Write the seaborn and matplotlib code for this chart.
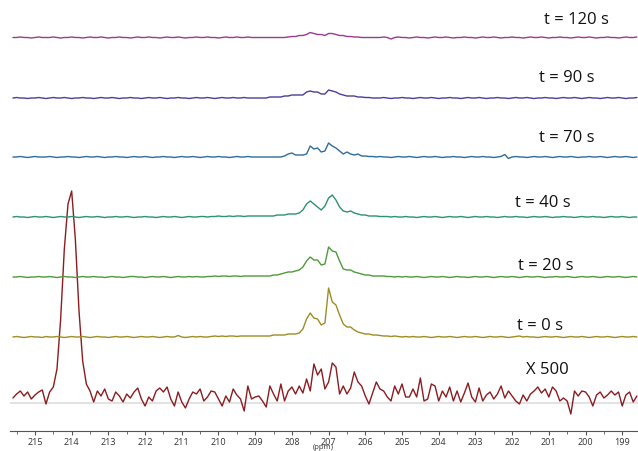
import numpy as np
import pandas as pd
import matplotlib
matplotlib.use("Agg")
import matplotlib.pyplot as plt
import seaborn as sns

# ---------------- data ----------------
# chemical shift grid (ppm), 0.1 ppm sampling from 215.6 down to 198.6
ppm = np.round(np.arange(215.6, 198.55, -0.1), 2)

series_names = ["X 500", "t = 0 s", "t = 20 s", "t = 40 s", "t = 70 s", "t = 90 s", "t = 120 s"]

x500 = [
    5, 9, 12, 7, 11, 4, 8, 11, 13, -1,
    11, 16, 34, 84, 154, 199, 212, 164, 92, 42,
    19, 12, 1, 12, 7, 14, 4, 2, 11, 7,
    1, 9, 5, 11, 15, 4, -3, 6, 2, 12,
    15, 11, 16, 4, -3, 11, 1, -5, 4, 11,
    9, 14, 2, 6, 12, 11, 4, -3, 7, 1,
    14, 8, 4, -8, 17, 4, 6, 7, 2, -4,
    17, 9, 2, 19, 2, 12, 16, 9, 17, 10,
    24, 12, 39, 28, 34, 14, 21, 40, 36, 9,
    17, 9, 15, 31, 21, 17, 7, -1, 10, 21,
    14, 12, 6, 2, 17, 9, 19, 6, 6, 14,
    6, 25, 2, 4, 19, 17, 2, 12, 6, 16,
    2, 12, 1, 10, 20, 6, 1, 15, 2, 8,
    11, 4, 9, 17, 5, 12, 7, 2, -1, 8,
    2, 9, 12, 16, 10, 14, 6, 16, 12, 2,
    5, 2, -11, 12, 7, 12, 11, 6, -3, 8,
    11, 5, 8, 12, 8, 11, -3, 8, 11, 1,
    7,
]

t0 = [
    0, 0.5, 0, -0.5, 0, 0.5, 0, 0, -0.5, 0.5,
    0, 0, 0.5, 0, -0.5, 0, 0.5, 0, 0, 0.5,
    0, -0.5, 0, 0.5, 0, 0, -0.5, 0, 0.5, 0,
    0, 0.5, 0, -0.5, 0, 0.5, 0, 0, 0.5, 0,
    -0.5, 0, 0.5, 0, 0, 1.5, 0, -0.5, 0, 0.5,
    0, 0.5, 0, 0, 0.5, 1, 0.5, 1, 0.5, 1,
    1, 0.5, 1, 1, 1, 1, 1,
    1, 1, 1, 1, 2, 2, 2, 2, 3, 3, 3,
    4, 8, 18, 24, 19, 18, 12, 14, 49, 35, 32, 22, 13, 10, 10, 7, 5, 4, 3, 3, 2,
    2, 1.5, 1, 1, 0.5, 1, 0.5, 0, 0.5, 0, 0.5,
    0, 0, 0.5, 0, -0.5, 0, 0.5, 0, 0, 0.5,
    0, -0.5, 0, 0.5, 0, 0, 0.5, 0, -0.5, 0,
    0.5, 0, 0, 0.5, 0, -0.5, 0, 0.5, 1, 0,
    0.5, 0, 0, -0.5, 0, 0.5, 0, 0, 0.5, 0,
    -0.5, 0, 0.5, 0, 0, 0.5, 0, -0.5, 0, 0.5,
    0, 0, 0.5, 0, -0.5, 0, 0.5, 0, 0, 0.5, 0,
]

t20 = [
    0, 0, 0.5, 0, -0.5, 0, 0, 0.5, 0, 0,
    0.5, 0, -0.5, 0, 0.5, 0, 0, -0.5, 0, 0.5,
    0, 0, 0.5, 0, 0, -0.5, 0, 0.5, 0, 0,
    -0.5, 0, 0.5, 0.5, 0, 0, -0.5, 0, 0.5, 0,
    0, 0.5, 0, -0.5, 0, 0.5, 0, 0, 0.5, 0,
    0.5, 0, 0, 0.5, 0.5, 1, 0.5, 1, 1, 0.5,
    1, 1, 0.5, 1, 1, 1, 1,
    1, 1, 1, 1, 2, 2,
    3, 4, 5, 5, 6, 7, 10, 16, 20, 17, 17, 12, 13, 30, 26, 25, 16, 8, 7, 7, 5, 4, 3, 2, 2, 1,
    1, 1, 1, 0.5, 0.5, 0, 0.5, 0, 0.5, 0, 0,
    0.5, 0, -0.5, 0, 0.5, 0, 0, 0.5, 0, -0.5,
    0, 0.5, 0, 0, -0.5, 0, 0.5, 0, 0, 0.5,
    0, -0.5, 0, 0.5, 0, 0, 0.5, 0, -0.5, 0,
    0.5, 0, 0, 0.5, 0, -0.5, 0, 0, 0.5, 0,
    0, 0.5, 0, -0.5, 0, 0.5, 0, 0, 0.5, 0,
    -0.5, 0, 0.5, 0, 0, 0.5, 0, -0.5, 0, 0.5, 0,
]

t40 = [
    0, 0.5, 0, 0, -0.5, 0, 0.5, 0, 0, 0.5,
    0, -0.5, 0, 0.5, 0, 0, 0.5, 0, -0.5, 0,
    0.5, 0, 0, 0.5, 0, -0.5, 0, 0, 0.5, 0,
    0, 0.5, 0, -0.5, 0, 0, 0.5, 0, 0, -0.5,
    0, 0.5, 0, 0, 0.5, 0, -0.5, 0, 0.5, 0,
    0, 0.5, 0.5, 0, 0.5, 0.5, 1, 0.5, 0.5, 1,
    0.5, 1, 1, 0.5, 1, 1, 1,
    1, 1, 1, 1, 1, 2, 2, 2, 3, 3, 3,
    4, 7, 13, 16, 13, 10, 7, 11, 19, 22, 17, 10, 6, 5, 6, 4, 3, 2, 2, 1, 1,
    1, 0.5, 0.5, 0.5, 0, 0.5, 0, 0, 0.5, 0, 0,
    -0.5, 0, 0.5, 0, 0, 0.5, 0, -0.5, 0, 0.5,
    0, 0, 0.5, 0, -0.5, 0, 0.5, 0, 0, 0.5,
    0, 0, -0.5, 0, 0.5, 0, 0, 0.5, 0, 0,
    -0.5, 0, 0.5, 0, 0, 0.5, 0, -0.5, 0, 0,
    0.5, 0, 0, -0.5, 0, 0.5, 0, 0, 0.5, 0,
    0, -0.5, 0, 0.5, 0, 0, 0.5, 0, -0.5, 0, 0,
]

t70 = [
    0, 0, 0.5, 0, -0.5, 0, 0.5, 0, 0, 0,
    0.5, 0, -0.5, 0, 0, 0.5, 0, 0, -0.5, 0,
    0.5, 0, 0, 0.5, 0, -0.5, 0, 0, 0.5, 0,
    0, -0.5, 0, 0.5, 0, 0, 0.5, 0, -0.5, 0,
    0, 0.5, 0, 0, -0.5, 0, 0.5, 0, 0, 0.5,
    0, -0.5, 0, 0.5, 0, 0, 0.5, 0, 0, -0.5,
    0, 0.5, 0, 0, 0.5, 0, 0,
    0, 0, 0, 0, 0, 0, 0,
    1, 3, 4, 2, 2, 2, 3, 11, 8, 9, 5, 6, 14, 11, 9, 6, 3, 5, 3, 2, 3, 1, 1, 0.5, 0.5,
    0, 0.5, 0, 0, -0.5, 0, 0.5, 0, 0, 0.5, 0,
    -0.5, 0, 0.5, 0, 0, 0.5, 0, -0.5, 0, 0,
    0.5, 0, 0, -0.5, 0, 0.5, 0, 0, 0.5, 0,
    0, -0.5, 0, 0.5, 2.5, -1.5, 0, 0.5, 0, 0,
    -0.5, 0, 0.5, 0, 0, 0.5, 0, -0.5, 0, 0.5,
    0, 0, 0.5, 0, -0.5, 0, 0, 0.5, 0, 0,
    0.5, 0, -0.5, 0, 0.5, 0, 0, 0.5, 0, -0.5, 0,
]

t90 = [
    0, 0.5, 0, 0, -0.5, 0, 0, 0.5, 0, -0.5,
    0, 0.5, 0, 0, 0.5, 0, -0.5, 0, 0, 0.5,
    0, 0, -0.5, 0, 0.5, 0, 0, 0.5, 0, -0.5,
    0, 0, 0.5, 0, 0, -0.5, 0, 0.5, 0, 0,
    0.5, 0, -0.5, 0, 0, 0.5, 0, 0, -0.5, 0,
    0.5, 0, 0, 0.5, 0, -0.5, 0, 0.5, 0, 0,
    0.5, 0, 0, 0.5, 0, 0, 0,
    0, 0, 0, 1, 1, 1, 1, 2, 2, 3, 3, 3, 3,
    6, 7, 6, 6, 4, 4, 8, 7, 6, 4, 3, 2, 2, 2, 1, 1, 0.5, 0.5, 0,
    0, 0, 0.5, 0, -0.5, 0, 0, 0.5, 0, 0, -0.5,
    0, 0.5, 0, 0, 0.5, 0, -0.5, 0, 0, 0.5,
    0, 0, -0.5, 0, 0.5, 0, 0, 0.5, 0, -0.5,
    0, 0, 0.5, 0, 0, -0.5, 0, 0.5, 0, 0,
    0.5, 0, -0.5, 0, 0, 0.5, 0, 0, -0.5, 0,
    0.5, 0, 0, 0.5, 0, -0.5, 0, 0.5, 0, 0,
    -0.5, 0, 0.5, 0, 0, 0.5, 0, -0.5, 0, 0, 0.5,
]

t120 = [
    0, 0, 0.5, 0, 0, -0.5, 0, 0.5, 0, 0,
    0, 0.5, 0, -0.5, 0, 0, 0.5, 0, 0, -0.5,
    0, 0.5, 0, 0, 0.5, 0, -0.5, 0, 0, 0.5,
    0, 0, -0.5, 0, 0.5, 0, 0, 0.5, 0, 0,
    -0.5, 0, 0.5, 0, 0, 0.5, 0, -0.5, 0, 0,
    0.5, 0, 0, 0.5, 0, 0, -0.5, 0, 0.5, 0,
    0, 0.5, 0, 0, 0.5, 0, 0,
    0, 0, 0, 0, 0, 0, 0, 0,
    0.5, 1, 1, 2, 2, 3, 5, 4, 3, 3, 2, 4, 4, 3, 2, 2, 1, 1, 0.5, 0.5, 0, 0, 0, 0,
    0, 0, 0.5, 0, -1.5, 0, 0.5, 0, 0, -0.5, 0,
    0.5, 0, 0, -0.5, 0, 0.5, 0, 0, 0.5, 0,
    -0.5, 0, 0, 0.5, 0, 0, -0.5, 0, 0.5, 0,
    0, 0.5, 0, -0.5, 0, 0, 0.5, 0, 0, -0.5,
    0, 0.5, 0, 0, 0.5, 0, -0.5, 0, 0, 0.5,
    0, 0, -0.5, 0, 0.5, 0, 0, 0.5, 0, -0.5,
    0, 0, 0.5, 0, 0, -0.5, 0, 0.5, 0, 0, 0.5,
]

tick_values = list(range(199, 216))
tick_labels = [str(v) for v in tick_values]

# ---------------- layout / style ----------------
colors = {
    "X 500": "#8c1c20",
    "t = 0 s": "#a08c22",
    "t = 20 s": "#4f9a3a",
    "t = 40 s": "#2b9272",
    "t = 70 s": "#2f6c9e",
    "t = 90 s": "#4b3e9c",
    "t = 120 s": "#9c3a90",
}
offsets = {"X 500": 28, "t = 0 s": 94, "t = 20 s": 154, "t = 40 s": 214,
           "t = 70 s": 274, "t = 90 s": 333, "t = 120 s": 393.5}
label_pos = {"X 500": (201.05, 62), "t = 0 s": (201.24, 106), "t = 20 s": (201.08, 166),
             "t = 40 s": (201.16, 229), "t = 70 s": (200.5, 294), "t = 90 s": (200.5, 354),
             "t = 120 s": (200.26, 412)}

traces = [x500, t0, t20, t40, t70, t90, t120]
frames = []
for name, vals in zip(series_names, traces):
    frames.append(pd.DataFrame({"ppm": ppm, "intensity": np.asarray(vals, float),
                                "series": name}))
df = pd.concat(frames, ignore_index=True)
df["y"] = df["intensity"] + df["series"].map(offsets)

sns.set_theme(style="white")
plt.rcParams["font.family"] = ["Open Sans", "DejaVu Sans"]

fig = plt.figure(figsize=(6.38, 4.52), dpi=100)
ax = fig.add_axes([10 / 638, 20 / 452, 628 / 638, 432 / 452])

ax.axhline(offsets["X 500"], color="#e2e2e2", lw=1.4, zorder=1)
sns.lineplot(data=df, x="ppm", y="y", hue="series", palette=colors,
             estimator=None, sort=False, legend=False, linewidth=1.0, ax=ax, zorder=3)

for name in series_names:
    lx, ly = label_pos[name]
    ax.text(lx, ly, name, fontsize=12, ha="center", va="center", color="#111111")

ax.set_xlim(215.68, 198.57)
ax.set_ylim(0, 432)
ax.set_xticks(tick_values)
ax.set_xticklabels(tick_labels)
ax.set_xticks(np.arange(199.5, 215.6, 1.0), minor=True)
ax.tick_params(axis="x", which="major", direction="out", length=3, width=0.8,
               color="#555555", labelsize=6.5, pad=1.5, labelcolor="#333333", bottom=True)
ax.tick_params(axis="x", which="minor", direction="out", length=2, width=0.6,
               color="#555555", bottom=True)
ax.set_yticks([])
ax.set_xlabel("")
ax.set_ylabel("")
for s in ["top", "left", "right"]:
    ax.spines[s].set_visible(False)
ax.spines["bottom"].set_color("#555555")
ax.spines["bottom"].set_linewidth(0.8)
ax.set_facecolor("white")

ax.text(207.15, -16.0, "(ppm)", fontsize=5.5, ha="center", va="center", color="#333333",
        clip_on=False)

fig.savefig("out.png", dpi=100, facecolor="white")
